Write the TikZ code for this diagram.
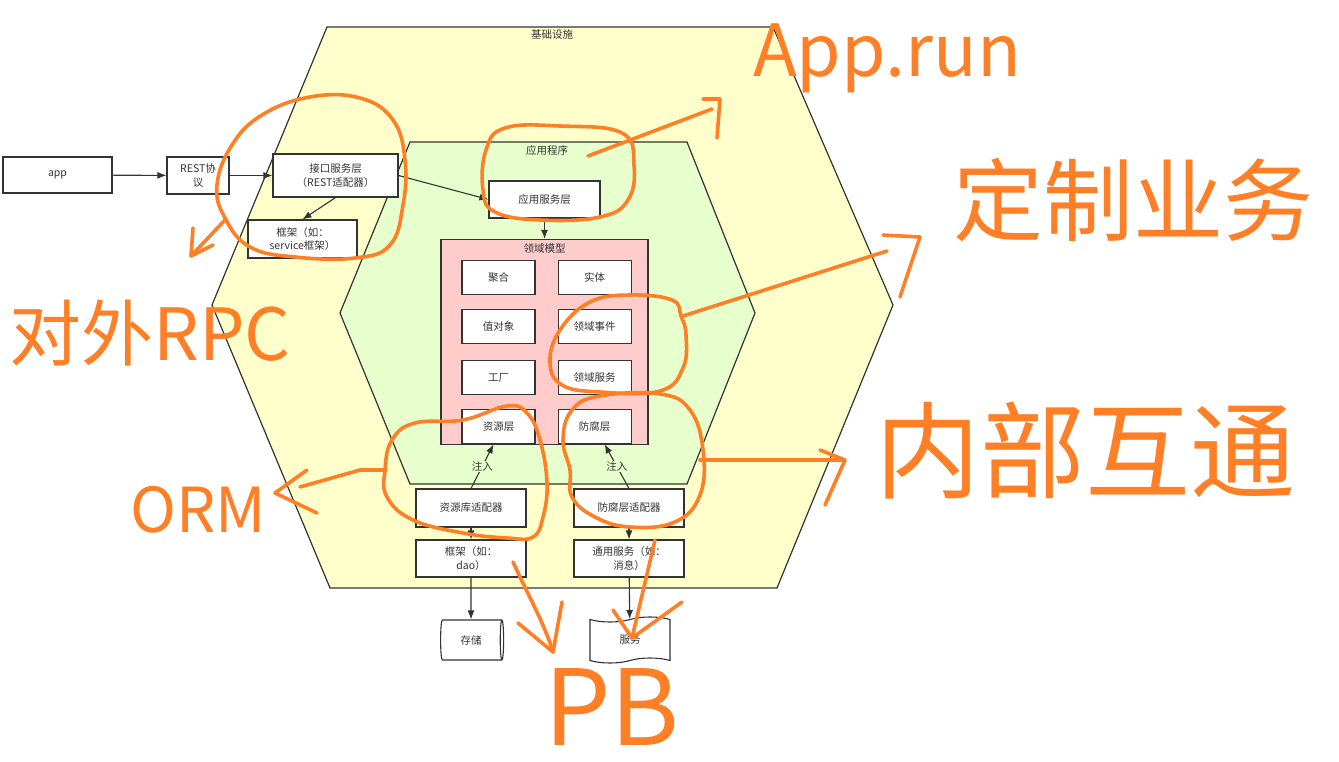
\documentclass[tikz,border=0pt]{standalone}
\usepackage{fontspec}
\setmainfont{Noto Sans CJK SC}
\newfontfamily\hand{Noto Sans CJK SC}
\usepackage{tikz}
\usetikzlibrary{arrows.meta,positioning,shapes.geometric,shapes.symbols}
\usepackage{xcolor}
\definecolor{edge}{HTML}{333333}
\definecolor{ink}{HTML}{333333}
\definecolor{infrafill}{HTML}{FFFFCC}
\definecolor{appfill}{HTML}{E6FFCC}
\definecolor{domfill}{HTML}{FFCCCC}
\definecolor{marker}{HTML}{FF7F27}
\tikzset{
  blk/.style={draw=edge, line width=1.1pt, fill=white, text=ink, align=center, inner sep=0pt, font=\fontsize{10.5}{13.5}\selectfont},
  cell/.style={blk, minimum width=73pt, minimum height=34pt},
  tag/.style={text=ink, inner sep=1pt, font=\fontsize{10.5}{13}\selectfont},
  inj/.style={tag, fill=appfill},
  hexline/.style={draw=edge, line width=1.2pt},
  arrow/.style={-{Latex[length=9pt,width=7pt]}, line width=1.1pt, draw=edge},
  pen/.style={draw=marker, line width=3.6pt, line cap=round, line join=round},
  scrawl/.style={text=marker, inner sep=0pt}
}

\begin{document}
\begin{tikzpicture}[x=1pt, y=-1pt]
  \useasboundingbox (0,0) rectangle (1339,762);
  \draw[hexline, fill=infrafill] (327,27) -- (773,27) -- (893,305) -- (777,588) -- (330,588) -- (212,305) -- cycle;
  \draw[hexline, fill=appfill] (410,142) -- (687,142) -- (755,313) -- (687,484) -- (410,484) -- (340,313) -- cycle;
  \node[tag] (infra) at (552,35) {基础设施};
  \node[tag] (appl) at (547,151) {应用程序};

  \node[blk, minimum width=109pt, minimum height=36pt] (app) at (57.5,175) {app};
  \node[blk, minimum width=62pt, minimum height=37pt] (rest) at (198,175.5) {REST协\\议};
  \node[blk, minimum width=125pt, minimum height=43pt] (iface) at (335.5,175.5) {接口服务层\\（REST适配器）};
  \node[blk, minimum width=109pt, minimum height=38pt] (fwsvc) at (302.5,239) {框架（如：\\service框架）};
  \node[blk, minimum width=111pt, minimum height=37pt] (appsvc) at (544.5,199.5) {应用服务层};

  \node[blk, fill=domfill, minimum width=207pt, minimum height=205pt] (domain) at (544.5,342) {};
  \node[tag, below=4pt of domain.north] (domtitle) {领域模型};
  \node[cell] (agg) at (498.5,277.5) {聚合};
  \node[cell, right=22pt of agg] (entity) {实体};
  \node[cell, below=14pt of agg] (valobj) {值对象};
  \node[cell, right=22pt of valobj] (domevt) {领域事件};
  \node[cell, below=16pt of valobj] (factory) {工厂};
  \node[cell, right=22pt of factory] (domsvc) {领域服务};
  \node[cell, below=14pt of factory] (repo) {资源层};
  \node[cell, right=22pt of repo] (acl) {防腐层};

  \node[blk, minimum width=110pt, minimum height=38pt] (adprepo) at (471,508) {资源库适配器};
  \node[blk, minimum width=110pt, minimum height=38pt] (adpacl) at (629,508) {防腐层适配器};
  \node[blk, minimum width=110pt, minimum height=37pt] (fwdao) at (471,558.5) {框架（如：\\dao）};
  \node[blk, minimum width=110pt, minimum height=37pt] (common) at (629,558.5) {通用服务（如：\\消息）};
  \node[blk, cylinder, aspect=0.35, minimum width=40pt, minimum height=63pt] (store) at (471,640) {存储};
  \node[blk, tape, minimum width=80pt, minimum height=46pt] (svc) at (630,640) {服务};

  \draw[arrow] (app) -- (rest);
  \draw[arrow] (rest) -- (iface);
  \draw[arrow] (iface.east) -- (appsvc.west);
  \draw[arrow] (iface.south) -- (fwsvc.north);
  \draw[arrow] (appsvc) -- (domain);
  \draw[arrow] (adprepo.north) -- node[inj] {注入} ([xshift=-5pt]repo.south);
  \draw[arrow] (adpacl.north) -- node[inj] {注入} ([xshift=10pt]acl.south);
  \draw[arrow] (adprepo) -- (fwdao);
  \draw[arrow] (adpacl) -- (common);
  \draw[arrow] (fwdao) -- (store);
  \draw[arrow] (common) -- (svc);

  \draw[pen] plot[smooth cycle, tension=0.7] coordinates {(225,218) (217,185) (232,145) (262,115) (310,97) (360,98) (393,120) (405,160) (403,205) (390,245) (355,258) (295,257) (250,247)};
  \draw[pen] plot[smooth cycle, tension=0.7] coordinates {(505,128) (560,126) (622,133) (634,165) (628,200) (600,217) (540,220) (495,212) (483,190) (486,150)};
  \draw[pen] plot[smooth cycle, tension=0.7] coordinates {(681,316) (672,300) (630,295) (590,302) (560,330) (550,362) (562,385) (600,392) (660,391) (683,368) (686,335)};
  \draw[pen] plot[smooth cycle, tension=0.7] coordinates {(385,470) (392,440) (415,423) (463,420) (507,406) (527,413) (540,440) (547,483) (543,517) (533,537) (507,538) (463,533) (413,520) (387,497)};
  \draw[pen] plot[smooth cycle, tension=0.7] coordinates {(570,470) (563,440) (572,410) (600,396) (660,394) (690,410) (703,450) (700,495) (675,522) (630,527) (595,517) (572,497)};

  \coordinate (rpcfrom) at (225,220);
  \coordinate (rpcto) at (191,256);
  \coordinate (runfrom) at (588,156);
  \coordinate (runto) at (712,109);
  \coordinate (bizfrom) at (683,316);
  \coordinate (bizto) at (887,251);
  \coordinate (ormfrom) at (386,470);
  \coordinate (ormto) at (300,487);
  \coordinate (innerfrom) at (700,460);
  \coordinate (innerto) at (843,460);
  \coordinate (pbfroma) at (513,562);
  \coordinate (pbtoa) at (553,652);
  \coordinate (pbfromb) at (655,540);
  \coordinate (pbtob) at (632,638);

  \draw[pen] (rpcfrom) -- (rpcto);
  \draw[pen] (193,228) -- (rpcto) -- (213,245);
  \draw[pen] (runfrom) -- (runto);
  \draw[pen] (703,99) -- (720,99) -- (717,138);
  \draw[pen] (bizfrom) -- (bizto);
  \draw[pen] (883,235) -- (920,237) -- (900,297);
  \draw[pen] (ormfrom) -- (360,470) -- (ormto);
  \draw[pen] (307,470) -- (275,493) -- (317,513);
  \draw[pen] (innerfrom) -- (innerto);
  \draw[pen] (820,450) -- (845,460) -- (825,505);
  \draw[pen] (pbfroma) .. controls (528,595) and (545,625) .. (pbtoa);
  \draw[pen] (518,623) -- (pbtoa) -- (562,602);
  \draw[pen] (pbfromb) -- (pbtob);
  \draw[pen] (613,610) -- (pbtob) -- (682,602);

  \node[scrawl, font=\hand\fontsize{72}{72}\selectfont] (apprun) at (887,58) {App.run};
  \node[scrawl, font=\hand\fontsize{90}{90}\selectfont] (custom) at (1133,200) {定制业务};
  \node[scrawl, font=\hand\fontsize{72}{72}\selectfont] (rpc) at (150,333) {对外RPC};
  \node[scrawl, font=\hand\fontsize{62}{62}\selectfont] (orm) at (198,510) {ORM};
  \node[scrawl, font=\hand\fontsize{105}{105}\selectfont] (inner) at (1085,450) {内部互通};
  \node[scrawl, font=\hand\fontsize{105}{105}\selectfont] (pb) at (612,707) {PB};
\end{tikzpicture}
\end{document}
